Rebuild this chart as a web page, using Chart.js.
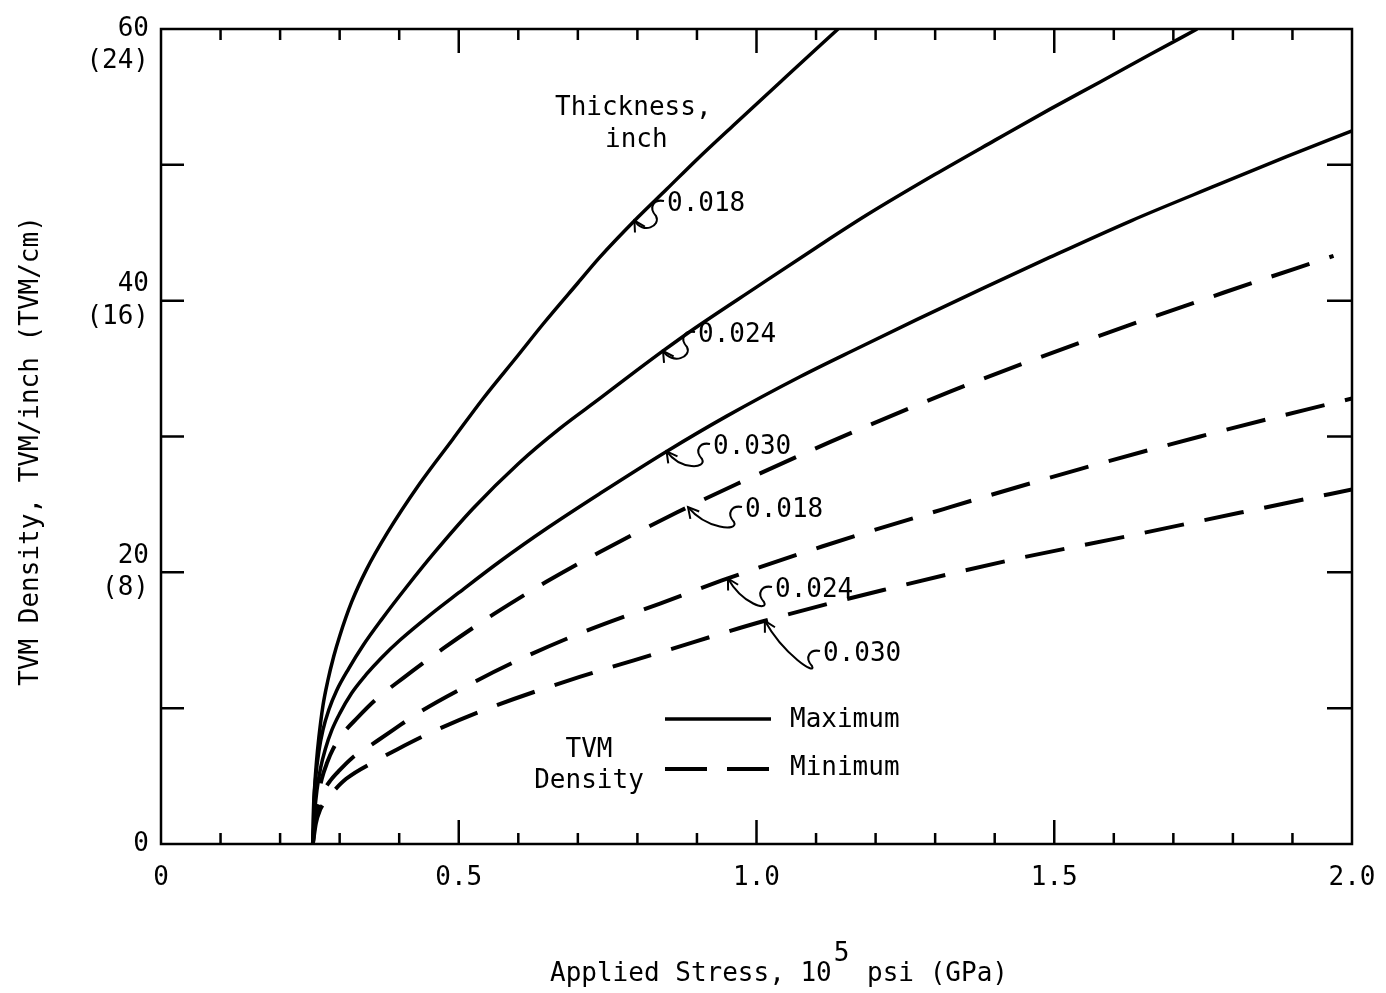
<!DOCTYPE html>
<html><head><meta charset="utf-8">
<script src="https://cdn.jsdelivr.net/npm/chart.js@4/dist/chart.umd.min.js"></script>
<style>html,body{margin:0;padding:0;background:#fff;}#wrap{width:1386px;height:993px;}</style>
</head><body><div id="wrap"><canvas id="c" width="1386" height="993"></canvas></div>
<script>
// ---- tick labels ----
const xTickValues = [0, 0.5, 1, 1.5, 2];
const xTickText = ["0", "0.5", "1.0", "1.5", "2.0"];
const yTickValues = [0, 20, 40, 60];
const yTickText = ["0", ["20", "(8)"], ["40", "(16)"], ["", "60", "(24)"]];

// ---- series: Maximum TVM density (solid), thickness in inch ----
const maxX018 = [0.255,0.256,0.258,0.261,0.265,0.272,0.280,0.290,0.300,0.320,0.345,0.380,0.434,0.490,0.541,0.600,0.642,0.700,0.737,0.800,0.849,0.900,0.961,1.050,1.137];
const maxY018 = [0,2.5,4.2,6.0,7.8,10.2,12.0,13.8,15.3,17.8,20.2,22.9,26.5,29.8,32.8,36.0,38.3,41.3,43.2,46.1,48.2,50.4,52.9,56.5,60];
const maxX024 = [0.255,0.257,0.260,0.265,0.272,0.282,0.295,0.315,0.339,0.370,0.412,0.460,0.524,0.600,0.670,0.737,0.800,0.843,0.894,1.000,1.100,1.185,1.300,1.400,1.493,1.577,1.660,1.740];
const maxY024 = [0,3.2,5.0,6.8,8.4,9.9,11.3,12.9,14.6,16.5,18.9,21.5,24.7,28.0,30.6,32.8,34.9,36.3,37.9,41.0,43.9,46.3,49.3,51.8,54.1,56.1,58.1,60];
const maxX030 = [0.255,0.258,0.262,0.268,0.276,0.287,0.300,0.320,0.345,0.370,0.401,0.450,0.500,0.569,0.650,0.737,0.849,0.950,1.073,1.170,1.269,1.380,1.493,1.630,1.773,1.890,2.0];
const maxY030 = [0,2.3,4.0,5.6,7.0,8.4,9.6,11.1,12.5,13.7,15.0,16.8,18.5,20.8,23.3,25.8,28.9,31.5,34.4,36.5,38.6,40.9,43.2,45.9,48.5,50.6,52.5];

// ---- series: Minimum TVM density (dashed), thickness in inch ----
const minX018 = [0.255,0.258,0.263,0.270,0.279,0.289,0.305,0.330,0.360,0.406,0.474,0.558,0.647,0.737,0.866,0.967,1.124,1.325,1.543,1.785,1.969];
const minY018 = [0,1.8,3.3,4.8,6.0,7.0,8.1,9.3,10.6,12.2,14.4,16.9,19.3,21.5,24.4,26.5,29.6,33.3,36.9,40.6,43.3];
const minX024 = [0.255,0.259,0.265,0.273,0.285,0.297,0.320,0.350,0.390,0.434,0.516,0.608,0.703,0.838,0.942,1.110,1.325,1.543,1.745,1.925,2.0];
const minY024 = [0,1.8,3.0,3.9,4.7,5.3,6.3,7.2,8.4,9.7,11.7,13.7,15.5,17.7,19.4,21.9,24.8,27.6,30.0,32.0,32.8];
const minX030 = [0.255,0.260,0.267,0.277,0.290,0.311,0.364,0.398,0.463,0.563,0.703,0.838,1.011,1.213,1.437,1.605,1.813,2.0];
const minY030 = [0,1.5,2.5,3.2,3.9,4.8,6.2,7.0,8.4,10.2,12.3,14.1,16.4,18.7,21.0,22.5,24.4,26.1];

const FONT = '"DejaVu Sans Mono", monospace';
const pts = (xs, ys) => xs.map((x, i) => ({x: x, y: ys[i]}));
const solid = (label, xs, ys) => ({label, data: pts(xs, ys), borderColor:'#000', borderWidth:3.5,
  pointRadius:0, cubicInterpolationMode:'monotone', fill:false});
const dashed = (label, xs, ys) => ({label, data: pts(xs, ys), borderColor:'#000', borderWidth:4,
  borderDash:[40,21], borderCapStyle:'butt', pointRadius:0, cubicInterpolationMode:'monotone', fill:false});

function squiggle(ctx, S, T) {
  const M = {x: S.x - 8, y: S.y + 15};
  ctx.beginPath();
  ctx.moveTo(S.x, S.y);
  ctx.bezierCurveTo(S.x - 10, S.y - 2, M.x - 8, M.y - 9, M.x, M.y);
  const c1 = {x: M.x + 5, y: M.y + 10};
  const c2 = {x: T.x + 0.4 * (M.x - T.x), y: T.y + 0.4 * (M.y - T.y) + 16};
  ctx.bezierCurveTo(c1.x, c1.y, c2.x, c2.y, T.x, T.y);
  ctx.stroke();
  const ang = Math.atan2(T.y - c2.y, T.x - c2.x);
  ctx.beginPath();
  ctx.moveTo(T.x - 12 * Math.cos(ang - 0.5), T.y - 12 * Math.sin(ang - 0.5));
  ctx.lineTo(T.x, T.y);
  ctx.lineTo(T.x - 12 * Math.cos(ang + 0.5), T.y - 12 * Math.sin(ang + 0.5));
  ctx.stroke();
}

const framePlugin = {
  id: 'frameTicks',
  afterDatasetsDraw(chart) {
    const {ctx, chartArea: a, scales: {x, y}} = chart;
    ctx.save();
    ctx.strokeStyle = '#000'; ctx.lineWidth = 2.5;
    ctx.strokeRect(a.left, a.top, a.right - a.left, a.bottom - a.top);
    ctx.beginPath();
    for (let i = 1; i < 20; i++) {
      const px = x.getPixelForValue(i / 10);
      const len = (i % 5 === 0) ? 24 : 11;
      ctx.moveTo(px, a.bottom); ctx.lineTo(px, a.bottom - len);
      ctx.moveTo(px, a.top); ctx.lineTo(px, a.top + len);
    }
    for (let j = 1; j < 6; j++) {
      const py = y.getPixelForValue(j * 10);
      ctx.moveTo(a.left, py); ctx.lineTo(a.left + 23, py);
      ctx.moveTo(a.right, py); ctx.lineTo(a.right - 25, py);
    }
    ctx.stroke();
    ctx.restore();
  }
};

const notePlugin = {
  id: 'notes',
  afterDraw(chart) {
    const {ctx, scales: {x, y}} = chart;
    ctx.save();
    ctx.fillStyle = '#000'; ctx.strokeStyle = '#000';
    ctx.font = '26px ' + FONT;
    ctx.textBaseline = 'alphabetic';
    const notes = [
      {text:'0.018', tx:0.795, ty:45.9, lx:667, by:211},
      {text:'0.024', tx:0.843, ty:36.3, lx:698, by:342},
      {text:'0.030', tx:0.849, ty:28.9, lx:713, by:454},
      {text:'0.018', tx:0.885, ty:24.8, lx:745, by:517},
      {text:'0.024', tx:0.952, ty:19.55, lx:775, by:597},
      {text:'0.030', tx:1.014, ty:16.43, lx:823, by:661}
    ];
    ctx.textAlign = 'left';
    ctx.lineWidth = 2;
    notes.forEach(n => {
      ctx.fillText(n.text, n.lx, n.by);
      squiggle(ctx, {x: n.lx - 3, y: n.by - 10}, {x: x.getPixelForValue(n.tx), y: y.getPixelForValue(n.ty)});
    });
    ctx.fillText('Thickness,', 555, 115);
    ctx.fillText('inch', 605, 147);
    // legend
    ctx.textAlign = 'center';
    ctx.fillText('TVM', 589, 757);
    ctx.fillText('Density', 589, 788);
    ctx.textAlign = 'left';
    ctx.fillText('Maximum', 790, 727);
    ctx.fillText('Minimum', 790, 775);
    ctx.lineWidth = 3.5;
    ctx.beginPath(); ctx.moveTo(665, 719); ctx.lineTo(771, 719); ctx.stroke();
    ctx.lineWidth = 4;
    ctx.setLineDash([42, 20]);
    ctx.beginPath(); ctx.moveTo(665, 769); ctx.lineTo(770, 769); ctx.stroke();
    ctx.setLineDash([]);
    // axis titles
    const p1 = 'Applied Stress, 10', p2 = '5', p3 = ' psi (GPa)';
    let tx0 = 550;
    ctx.fillText(p1, tx0, 981);
    tx0 += ctx.measureText(p1).width;
    ctx.fillText(p2, tx0 + 2, 961);
    tx0 += ctx.measureText(p2).width + 4;
    ctx.fillText(p3, tx0, 981);
    ctx.translate(38, 451);
    ctx.rotate(-Math.PI / 2);
    ctx.textAlign = 'center';
    ctx.fillText('TVM Density, TVM/inch (TVM/cm)', 0, 0);
    ctx.restore();
  }
};

const tickFont = {family: FONT, size: 26, lineHeight: 1.25};
new Chart(document.getElementById('c'), {
  type: 'line',
  data: {
    datasets: [
      solid('Maximum 0.018', maxX018, maxY018),
      solid('Maximum 0.024', maxX024, maxY024),
      solid('Maximum 0.030', maxX030, maxY030),
      dashed('Minimum 0.018', minX018, minY018),
      dashed('Minimum 0.024', minX024, minY024),
      dashed('Minimum 0.030', minX030, minY030)
    ]
  },
  options: {
    responsive: false, animation: false, devicePixelRatio: 1,
    layout: {padding: {top: 29, right: 34, left: 0, bottom: 0}},
    plugins: {legend: {display: false}, tooltip: {enabled: false}},
    scales: {
      x: {
        type: 'linear', min: 0, max: 2,
        grid: {display: false, drawTicks: false}, border: {display: false},
        ticks: {stepSize: 0.5, color: '#000', font: tickFont, padding: 18, maxRotation: 0,
          callback: v => { const i = xTickValues.findIndex(t => Math.abs(t - v) < 1e-6); return i >= 0 ? xTickText[i] : ''; }},
        afterFit: s => { s.height = 149; s.paddingLeft = 0; s.paddingRight = 0; }
      },
      y: {
        type: 'linear', min: 0, max: 60,
        grid: {display: false, drawTicks: false}, border: {display: false},
        ticks: {stepSize: 10, color: '#000', font: tickFont, padding: 12,
          callback: v => { const i = yTickValues.findIndex(t => Math.abs(t - v) < 1e-6); return i >= 0 ? yTickText[i] : ''; }},
        afterFit: s => { s.width = 161; s.paddingTop = 0; s.paddingBottom = 0; }
      }
    }
  },
  plugins: [framePlugin, notePlugin]
});
</script>
</body></html>
